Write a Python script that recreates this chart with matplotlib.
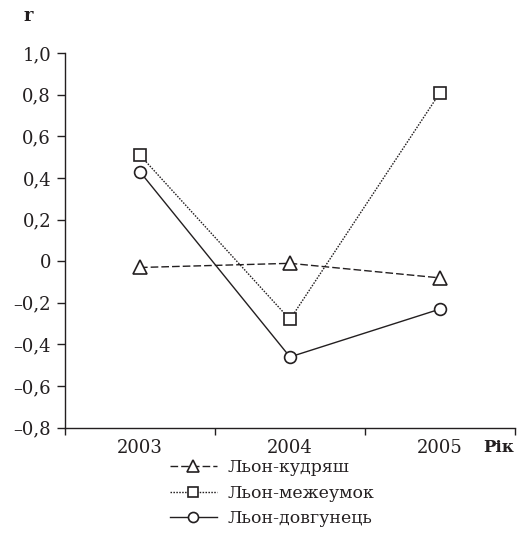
import numpy as np
import matplotlib.pyplot as plt

plt.rcParams['font.family'] = ['DejaVu Serif']

years = ['2003', '2004', '2005']
kudryash = [-0.03, -0.01, -0.08]
mezheumok = [0.51, -0.28, 0.81]
dovhunets = [0.43, -0.46, -0.23]
labels = ['Льон-кудряш', 'Льон-межеумок', 'Льон-довгунець']
yticks = [-0.8, -0.6, -0.4, -0.2, 0.0, 0.2, 0.4, 0.6, 0.8, 1.0]

ink = '#231f20'
fig = plt.figure(figsize=(5.3, 5.54), dpi=100)
ax = fig.add_axes([0.1226, 0.228, 0.849, 0.676])

x = np.arange(len(years))
mk = dict(color=ink, lw=1.0, mfc='white', mec=ink, mew=1.2)
ax.plot(x, kudryash, ls=(0, (5.5, 2.2)), marker='^', ms=10, label=labels[0], **mk)
ax.plot(x, mezheumok, ls=(0, (1.1, 1.0)), marker='s', ms=8, label=labels[1], **mk)
ax.plot(x, dovhunets, ls='-', marker='o', ms=8.5, label=labels[2], **mk)

ax.set_xlim(-0.5, 2.5)
ax.set_ylim(-0.8, 1.0)
ax.set_xticks(x)
ax.set_xticklabels(years)
ax.set_xticks([-0.5, 0.5, 1.5, 2.5], minor=True)
ax.tick_params(axis='x', which='major', length=0, pad=8, labelsize=13, colors=ink)
ax.tick_params(axis='x', which='minor', length=5, width=1, color=ink, direction='out')

def fmt(v):
    s = f'{abs(v):.1f}'.replace('.', ',')
    if abs(v) < 1e-9:
        return '0'
    return ('–' if v < 0 else '') + s

ax.set_yticks(yticks)
ax.set_yticklabels([fmt(v) for v in yticks])
ax.tick_params(axis='y', length=6, width=1, color=ink, pad=4, labelsize=13, labelcolor=ink)

for s in ['top', 'right']:
    ax.spines[s].set_visible(False)
for s in ['left', 'bottom']:
    ax.spines[s].set_color(ink)
    ax.spines[s].set_linewidth(1)

fig.text(28 / 530, 1 - 16 / 554, 'r', fontsize=13, fontweight='bold', color=ink,
         ha='center', va='center')
fig.text(514 / 530, 1 - 447 / 554, 'Рік', fontsize=12, fontweight='bold', color=ink,
         ha='right', va='center')

fig.legend(loc='upper left', bbox_to_anchor=(170 / 530, 1 - 459 / 554), frameon=False,
           fontsize=12.5, handlelength=2.7, handletextpad=0.6, labelspacing=0.5,
           markerscale=0.85, borderpad=0, borderaxespad=0, labelcolor=ink)

fig.savefig('out.png', dpi=100)
